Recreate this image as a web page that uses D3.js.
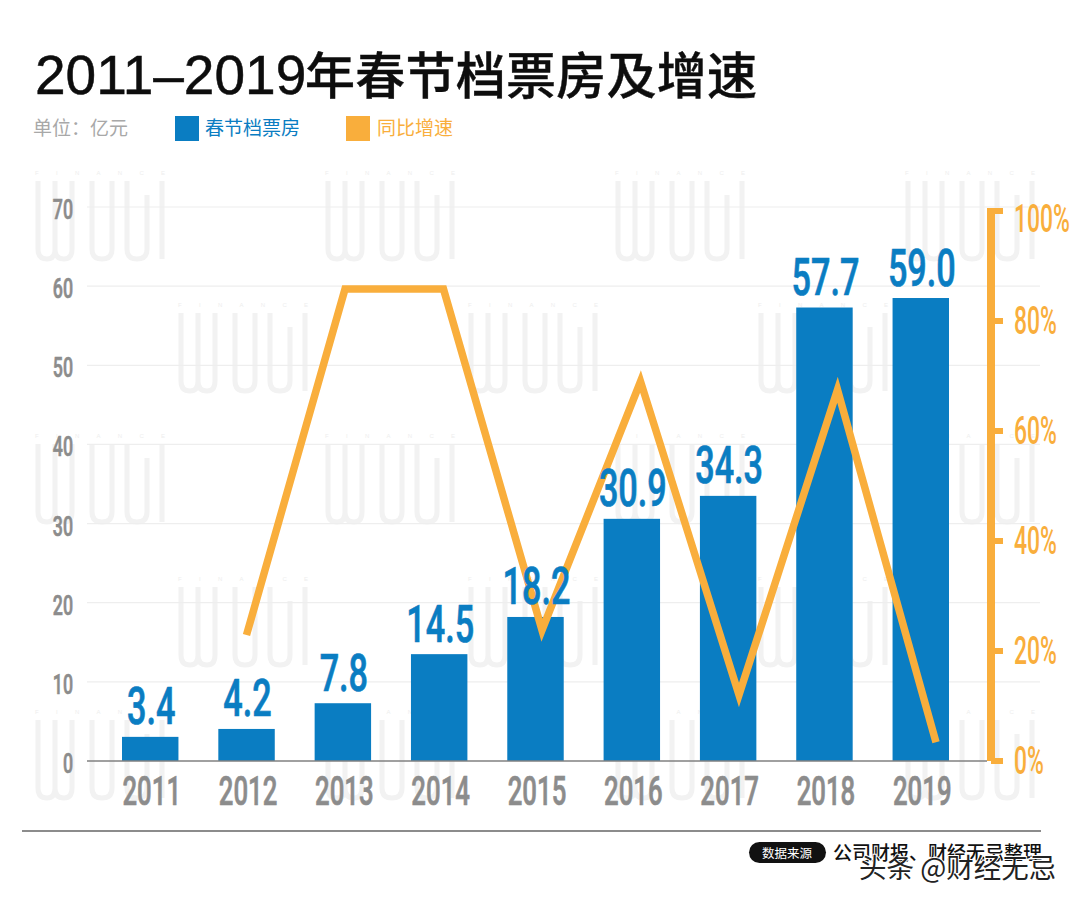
<!DOCTYPE html>
<html>
<head>
<meta charset="utf-8">
<script src="https://cdn.jsdelivr.net/npm/d3@7/dist/d3.min.js"></script>
<style>
  html, body { margin: 0; padding: 0; background: #fff; }
  svg { display: block; }
  text { font-family: "Noto Sans CJK SC", sans-serif; }
  .num { font-family: "Roboto", sans-serif; font-weight: 500; stroke-width: 0.5px; }
</style>
</head>
<body>
<script>
var years = ['2011', '2012', '2013', '2014', '2015', '2016', '2017', '2018', '2019'];
// bar heights as drawn in the picture (they sit a bit under their printed labels)
var boxOffice = [3.05, 4.05, 7.3, 13.5, 18.2, 30.6, 33.5, 57.3, 58.5];
var valueLabels = ['3.4', '4.2', '7.8', '14.5', '18.2', '30.9', '34.3', '57.7', '59.0'];
var growth = [null, 22.9, 85.8, 85.8, 23.8, 69, 12, 67.5, 3.4];
var leftTicks = [0, 10, 20, 30, 40, 50, 60, 70];
var rightTicks = [0, 20, 40, 60, 80, 100];
var wmColumns = [[35, 325, 615, 905], [178, 468, 758]];
var wmRows = [165, 297, 428, 571, 704];

var blue = '#0a7dc2', orange = '#f9ae3c', grey = '#8c8c8c';
var width = 1080, height = 906;

var svg = d3.select('body').append('svg').attr('width', width).attr('height', height);

var x = d3.scaleBand().domain(years).range([122, 949]).paddingInner(0.414);
// the orange line runs on a slightly wider spacing than the bars in the original
var xLine = d3.scalePoint().domain(years).range([148, 936]);
var y = d3.scaleLinear().domain([0, 70]).range([761, 207]);
var yRight = d3.scaleLinear().domain([0, 100]).range([761, 211]);

// watermark
var wm = svg.append('g');
wmRows.forEach(function(top, i) {
  wmColumns[i % 2].forEach(function(left) {
    var g = wm.append('g').attr('transform', 'translate(' + left + ',' + top + ')');
    g.append('text').text('FINANCE')
      .attr('x', 0).attr('y', 10)
      .attr('textLength', 130)
      .style('font-family', 'Liberation Sans')
      .style('font-size', '6px')
      .style('fill', '#eeeeee');
    g.append('path')
      .attr('d', 'M3 16V84Q3 94 12 94Q20 94 20 84V16M20 84Q20 94 29 94Q37 94 37 84V16' +
                 'M57 16V84Q57 94 67 94Q77 94 77 84V16M92 16V84Q92 94 102 94Q112 94 112 84V30M127 16V94')
      .attr('fill', 'none')
      .attr('stroke', '#f2f2f2')
      .attr('stroke-width', 5);
  });
});

// grid
svg.append('g').selectAll('line').data(leftTicks.slice(1)).join('line')
  .attr('x1', 87).attr('x2', 1040)
  .attr('y1', function(d) { return y(d); })
  .attr('y2', function(d) { return y(d); })
  .attr('stroke', '#eeeeee').attr('stroke-width', 1.2);

// left tick labels
svg.append('g').selectAll('text').data(leftTicks).join('text')
  .attr('class', 'num')
  .attr('text-anchor', 'end')
  .attr('transform', function(d) { return 'translate(73,' + (y(d) + 12) + ') scale(0.89,1.4)'; })
  .style('font-size', '20px')
  .style('fill', grey)
  .style('stroke', grey)
  .text(function(d) { return d; });

// bars
svg.append('g').selectAll('rect').data(boxOffice).join('rect')
  .attr('x', function(d, i) { return x(years[i]); })
  .attr('width', x.bandwidth())
  .attr('y', function(d) { return y(d); })
  .attr('height', function(d) { return y(0) - y(d); })
  .attr('fill', blue);

// baseline
svg.append('line').attr('x1', 87).attr('x2', 987).attr('y1', y(0)).attr('y2', y(0))
  .attr('stroke', '#808080').attr('stroke-width', 1.5);

// growth line
var line = d3.line()
  .defined(function(d) { return d !== null; })
  .x(function(d, i) { return xLine(years[i]); })
  .y(function(d) { return yRight(d); });
svg.append('path').datum(growth)
  .attr('d', line)
  .attr('fill', 'none')
  .attr('stroke', orange)
  .attr('stroke-width', 7.5)
  .attr('stroke-linejoin', 'miter');

// value labels
svg.append('g').selectAll('text').data(valueLabels).join('text')
  .attr('class', 'num')
  .attr('text-anchor', 'middle')
  .attr('transform', function(d, i) {
    return 'translate(' + (x(years[i]) + x.bandwidth() / 2 + 1) + ',' + (y(boxOffice[i]) - 12.5) + ') scale(0.95,1.45)';
  })
  .style('font-size', '36px')
  .style('fill', blue)
  .style('stroke', blue)
  .text(function(d) { return d; });

// year labels
svg.append('g').selectAll('text').data(years).join('text')
  .attr('class', 'num')
  .attr('text-anchor', 'middle')
  .attr('transform', function(d) {
    return 'translate(' + (x(d) + x.bandwidth() / 2 + 1.5) + ',805) scale(0.86,1.36)';
  })
  .style('font-size', '30px')
  .style('fill', grey)
  .style('stroke', grey)
  .text(function(d) { return d; });

// right axis
var rightAxis = svg.append('g');
rightAxis.append('line')
  .attr('x1', 991).attr('x2', 991)
  .attr('y1', yRight(100) - 3).attr('y2', yRight(0))
  .attr('stroke', orange).attr('stroke-width', 8);
rightAxis.selectAll('line.tick').data(rightTicks).join('line')
  .attr('class', 'tick')
  .attr('x1', 991).attr('x2', 1003)
  .attr('y1', function(d) { return yRight(d); })
  .attr('y2', function(d) { return yRight(d); })
  .attr('stroke', orange).attr('stroke-width', 6);
rightAxis.selectAll('text').data(rightTicks).join('text')
  .attr('class', 'num')
  .attr('transform', function(d) {
    return 'translate(1014,' + (yRight(d) + (d === 100 ? 21 : 13)) + ') scale(0.88,1.46)';
  })
  .style('font-size', '26px')
  .style('fill', orange)
  .text(function(d) { return d + '%'; });

// title
var title = svg.append('text').attr('y', 94)
  .style('fill', '#0d0d0d')
  .style('stroke', '#0d0d0d');
title.append('tspan').text('2011–2019')
  .attr('x', 35)
  .style('font-family', '"Liberation Sans", sans-serif')
  .style('font-size', '55px')
  .style('stroke-width', '0.5px');
title.append('tspan').text('年春节档票房及增速')
  .attr('x', 305)
  .attr('textLength', 452)
  .style('font-family', '"Noto Sans CJK SC", sans-serif')
  .style('font-weight', 500)
  .style('font-size', '50px')
  .style('stroke-width', '0.4px');

// legend
svg.append('text').text('单位：亿元').attr('x', 33).attr('y', 135)
  .style('font-size', '19px').style('fill', '#a8a8a8');
svg.append('rect').attr('x', 175).attr('y', 116).attr('width', 24).attr('height', 25).attr('fill', blue);
svg.append('text').text('春节档票房').attr('x', 205).attr('y', 135)
  .style('font-size', '19px').style('fill', blue);
svg.append('rect').attr('x', 346).attr('y', 116).attr('width', 24).attr('height', 25).attr('fill', orange);
svg.append('text').text('同比增速').attr('x', 377).attr('y', 135)
  .style('font-size', '19px').style('fill', orange);

// footer
svg.append('line').attr('x1', 22).attr('x2', 1041).attr('y1', 831).attr('y2', 831)
  .attr('stroke', '#666').attr('stroke-width', 1.5);
svg.append('rect').attr('x', 749).attr('y', 842).attr('width', 77).attr('height', 21).attr('rx', 10.5).attr('fill', '#111');
svg.append('text').text('数据来源').attr('x', 787).attr('y', 857.5).attr('text-anchor', 'middle')
  .style('font-size', '12.5px').style('fill', '#fff');
svg.append('text').text('公司财报、财经无忌整理').attr('x', 833).attr('y', 860)
  .style('font-size', '19px').style('font-weight', 500).style('fill', '#111');
svg.append('text').text('头条 @财经无忌').attr('x', 859).attr('y', 878)
  .style('font-size', '27.5px')
  .style('fill', '#222')
  .style('stroke', '#fff')
  .style('stroke-width', '2px')
  .style('paint-order', 'stroke');
</script>
</body>
</html>
